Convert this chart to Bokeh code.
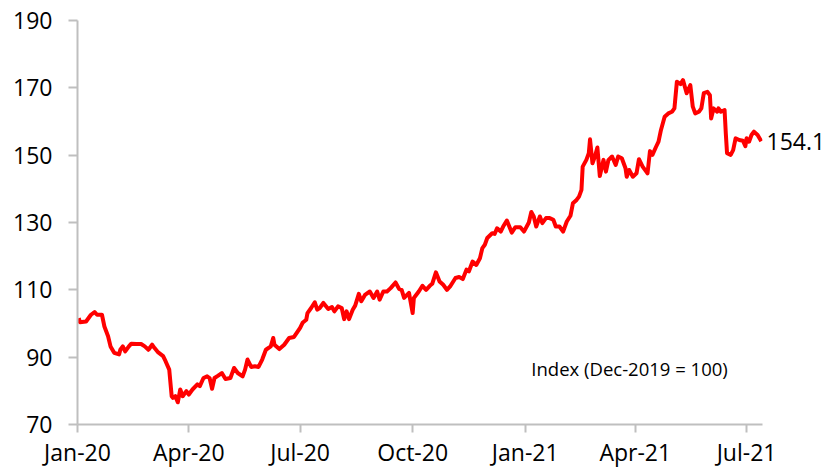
import pandas as pd
from bokeh.plotting import figure
from bokeh.models import Range1d, FixedTicker, Label, ColumnDataSource, LinearAxis
from bokeh.embed import file_html
from bokeh.resources import INLINE

dates = [
    "2020-01-02", "2020-01-03", "2020-01-08", "2020-01-12", "2020-01-15", "2020-01-17", "2020-01-21",
    "2020-01-23", "2020-01-26", "2020-01-28", "2020-01-31", "2020-02-04", "2020-02-05", "2020-02-07",
    "2020-02-09", "2020-02-12", "2020-02-14", "2020-02-18", "2020-02-22", "2020-02-25", "2020-02-28",
    "2020-03-02", "2020-03-04", "2020-03-07", "2020-03-11", "2020-03-13", "2020-03-16", "2020-03-18",
    "2020-03-19", "2020-03-21", "2020-03-23", "2020-03-25", "2020-03-27", "2020-03-30", "2020-04-01",
    "2020-04-04", "2020-04-08", "2020-04-10", "2020-04-13", "2020-04-16", "2020-04-18", "2020-04-20",
    "2020-04-22", "2020-04-25", "2020-04-28", "2020-05-01", "2020-05-05", "2020-05-08", "2020-05-11",
    "2020-05-15", "2020-05-17", "2020-05-19", "2020-05-22", "2020-05-25", "2020-05-28", "2020-05-31",
    "2020-06-03", "2020-06-07", "2020-06-09", "2020-06-10", "2020-06-14", "2020-06-18", "2020-06-22",
    "2020-06-26", "2020-07-01", "2020-07-03", "2020-07-06", "2020-07-07", "2020-07-10", "2020-07-13",
    "2020-07-15", "2020-07-17", "2020-07-20", "2020-07-24", "2020-07-27", "2020-07-29", "2020-08-01",
    "2020-08-04", "2020-08-06", "2020-08-08", "2020-08-10", "2020-08-13", "2020-08-15", "2020-08-18",
    "2020-08-20", "2020-08-23", "2020-08-27", "2020-08-30", "2020-09-02", "2020-09-04", "2020-09-07",
    "2020-09-10", "2020-09-13", "2020-09-17", "2020-09-20", "2020-09-22", "2020-09-24", "2020-09-28",
    "2020-10-01", "2020-10-02", "2020-10-06", "2020-10-09", "2020-10-12", "2020-10-15", "2020-10-17",
    "2020-10-20", "2020-10-23", "2020-10-26", "2020-10-29", "2020-11-01", "2020-11-05", "2020-11-08",
    "2020-11-11", "2020-11-14", "2020-11-16", "2020-11-19", "2020-11-22", "2020-11-25", "2020-11-27",
    "2020-11-29", "2020-12-01", "2020-12-05", "2020-12-07", "2020-12-09", "2020-12-12", "2020-12-14",
    "2020-12-17", "2020-12-21", "2020-12-24", "2020-12-28", "2020-12-31", "2021-01-04", "2021-01-06",
    "2021-01-08", "2021-01-10", "2021-01-13", "2021-01-15", "2021-01-18", "2021-01-21", "2021-01-24",
    "2021-01-26", "2021-01-29", "2021-02-01", "2021-02-04", "2021-02-07", "2021-02-09", "2021-02-12",
    "2021-02-14", "2021-02-16", "2021-02-17", "2021-02-20", "2021-02-22", "2021-02-23", "2021-02-25",
    "2021-02-27", "2021-03-01", "2021-03-03", "2021-03-06", "2021-03-08", "2021-03-10", "2021-03-13",
    "2021-03-16", "2021-03-18", "2021-03-21", "2021-03-24", "2021-03-25", "2021-03-27", "2021-03-30",
    "2021-04-02", "2021-04-04", "2021-04-07", "2021-04-10", "2021-04-11", "2021-04-13", "2021-04-15",
    "2021-04-18", "2021-04-20", "2021-04-22", "2021-04-25", "2021-04-28", "2021-05-01", "2021-05-03",
    "2021-05-05", "2021-05-08", "2021-05-10", "2021-05-13", "2021-05-16", "2021-05-18", "2021-05-20",
    "2021-05-23", "2021-05-25", "2021-05-27", "2021-05-30", "2021-06-01", "2021-06-02", "2021-06-04",
    "2021-06-07", "2021-06-08", "2021-06-10", "2021-06-13", "2021-06-14", "2021-06-15", "2021-06-18",
    "2021-06-20", "2021-06-22", "2021-06-25", "2021-06-28", "2021-06-30", "2021-07-01", "2021-07-03",
    "2021-07-05", "2021-07-07", "2021-07-10", "2021-07-13",
]

index_values = [
    101.6, 100.4, 100.6, 102.6, 103.4, 102.6, 102.6,
    99.1, 96.2, 93.2, 91.3, 90.8, 92.2, 93.2,
    91.7, 93.2, 94.0, 93.9, 93.9, 93.2, 92.2,
    93.7, 92.7, 91.4, 90.3, 88.8, 86.3, 78.4,
    77.9, 78.4, 76.6, 80.4, 78.4, 79.9, 78.9,
    80.4, 81.9, 81.4, 83.8, 84.3, 83.8, 80.6,
    83.8, 84.5, 85.3, 83.5, 83.8, 86.8, 85.3,
    84.3, 86.3, 89.3, 87.1, 87.3, 87.1, 89.3,
    92.2, 93.2, 95.7, 93.7, 92.4, 93.7, 95.7,
    96.0, 98.7, 100.2, 101.1, 103.1, 104.6, 106.3,
    104.1, 104.6, 106.1, 104.3, 104.9, 103.6, 105.1,
    104.6, 101.3, 103.6, 101.3, 104.1, 105.3, 108.8,
    106.6, 108.5, 109.5, 107.6, 109.5, 107.1, 109.5,
    109.5, 110.5, 112.2, 110.2, 110.0, 107.6, 109.1,
    103.1, 107.6, 109.5, 111.2, 110.0, 111.2, 111.8,
    115.2, 112.5, 111.5, 110.0, 111.2, 113.5, 113.8,
    113.2, 116.0, 115.5, 118.4, 117.4, 119.4, 122.4,
    123.4, 125.4, 126.8, 126.6, 128.3, 127.3, 128.8,
    130.6, 127.0, 128.6, 128.6, 127.3, 130.0, 133.1,
    131.8, 128.8, 131.8, 129.8, 131.3, 131.3, 130.8,
    128.8, 128.8, 127.3, 130.3, 132.0, 135.7, 136.7,
    137.7, 139.7, 146.6, 148.6, 150.6, 154.7, 147.6,
    149.6, 152.3, 143.8, 148.6, 145.1, 148.5, 149.6,
    147.1, 149.6, 149.1, 146.1, 143.6, 145.6, 143.6,
    144.6, 148.8, 146.6, 145.1, 144.6, 151.2, 150.1,
    152.5, 154.0, 157.5, 161.4, 162.4, 162.9, 163.9,
    171.8, 171.1, 172.3, 168.4, 170.8, 164.4, 162.4,
    162.9, 163.9, 168.4, 168.8, 167.8, 160.9, 163.9,
    162.9, 163.9, 162.9, 163.4, 156.5, 150.6, 150.1,
    151.5, 155.0, 154.5, 154.3, 152.7, 155.0, 154.0,
    156.0, 157.0, 156.0, 154.1,
]

x_tick_dates = ["2020-01-01", "2020-04-01", "2020-07-01", "2020-10-01",
                "2021-01-01", "2021-04-01", "2021-07-01"]
x_tick_labels = ["Jan-20", "Apr-20", "Jul-20", "Oct-20", "Jan-21", "Apr-21", "Jul-21"]
y_ticks = [70, 90, 110, 130, 150, 170, 190]
note_text = "Index (Dec-2019 = 100)"


def ms(d):
    return pd.Timestamp(d).timestamp() * 1000.0


FONT = "Open Sans"
AXIS_GREY = "#bfbfbf"

src = ColumnDataSource(dict(date=pd.to_datetime(dates), value=index_values))

p = figure(width=828, height=470, x_axis_type="datetime",
           output_backend="svg", toolbar_location=None,
           x_range=Range1d(ms("2020-01-01"), ms("2021-07-14")),
           y_range=Range1d(70, 190),
           min_border_left=77, min_border_right=65,
           min_border_top=20, min_border_bottom=45)

p.line("date", "value", source=src, line_color="#ff0000", line_width=4,
       line_join="round")

p.xgrid.visible = False
p.ygrid.visible = False
p.outline_line_color = None
p.background_fill_color = "white"

xt = [ms(d) for d in x_tick_dates]
p.xaxis.ticker = FixedTicker(ticks=xt)
p.xaxis.major_label_overrides = {t: lab for t, lab in zip(xt, x_tick_labels)}
p.yaxis.ticker = FixedTicker(ticks=y_ticks)

for ax in (p.xaxis, p.yaxis):
    ax.axis_line_color = AXIS_GREY
    ax.axis_line_width = 2
    ax.major_tick_line_color = AXIS_GREY
    ax.major_tick_line_width = 2
    ax.minor_tick_line_color = None
    ax.major_tick_in = 0
    ax.major_label_text_font = FONT
    ax.major_label_text_color = "black"

p.yaxis.major_label_text_font_size = "23px"
p.yaxis.major_tick_out = 9
p.yaxis.major_label_standoff = 16
p.xaxis.major_label_text_font_size = "23px"
p.xaxis.major_tick_out = 8
p.xaxis.major_label_standoff = 3

# end-of-line value label, drawn as a tick label of a bare right-hand axis
last_val = index_values[-1]
end_axis = LinearAxis(ticker=FixedTicker(ticks=[last_val]),
                      major_label_overrides={last_val: f"{last_val:.1f}"},
                      axis_line_color=None, major_tick_line_color=None,
                      minor_tick_line_color=None, major_tick_in=0, major_tick_out=0,
                      major_label_standoff=4, major_label_text_font=FONT,
                      major_label_text_font_size="23px",
                      major_label_text_color="black")
p.add_layout(end_axis, "right")

p.add_layout(Label(x=ms("2021-01-06"), y=86.6, text=note_text,
                   text_baseline="middle", text_align="left",
                   text_font=FONT, text_font_size="18.5px", text_color="black"))

open("out.html", "w").write(file_html(p, INLINE))
